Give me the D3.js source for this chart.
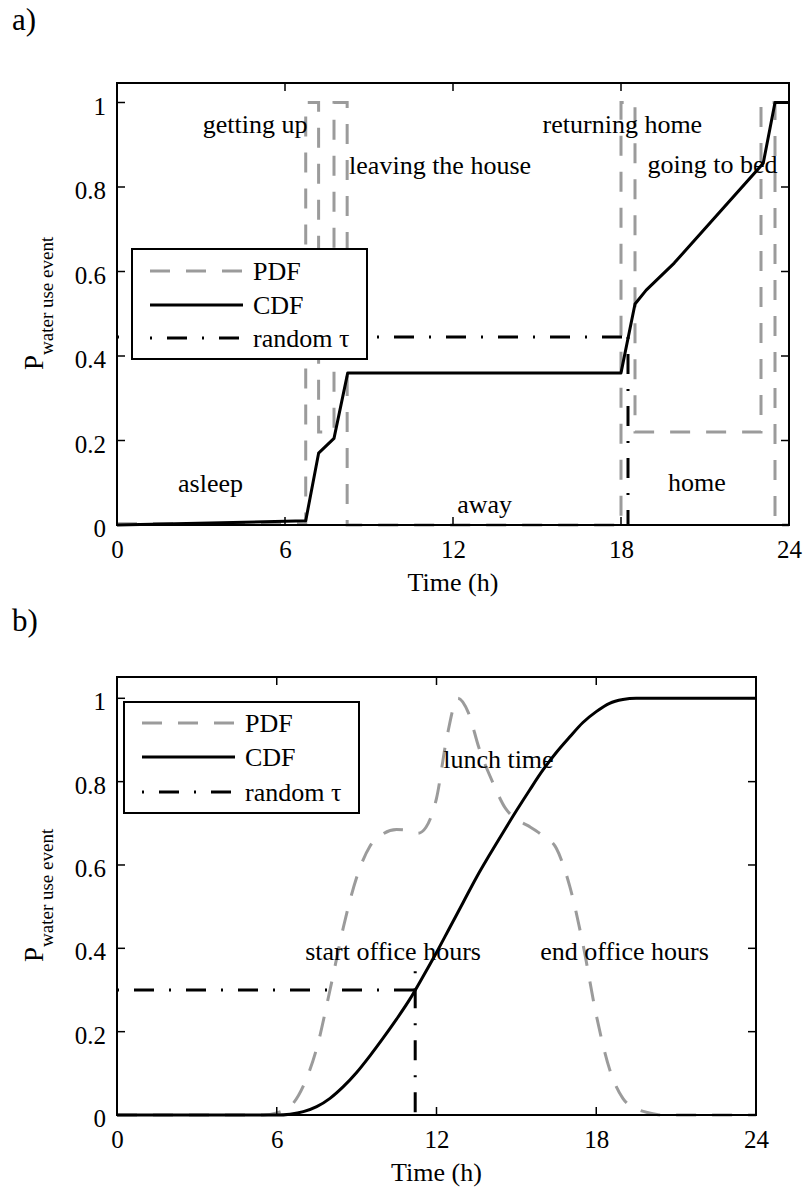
<!DOCTYPE html>
<html>
<head>
<meta charset="utf-8">
<script src="https://cdn.jsdelivr.net/npm/d3@7"></script>
<style>
  html, body { margin: 0; padding: 0; background: #fff; }
  svg text { font-family: "Liberation Serif", "Times New Roman", serif; fill: #000; }
</style>
</head>
<body>
<svg id="fig" width="804" height="1189"></svg>
<script>
// ---- Panel a: daily routine (step PDF) ----
const pdfA_t = [0, 6.74, 7.2, 7.75, 8.22, 18.0, 18.5, 23.0, 23.5, 24];
const pdfA_p = [0.003, 1, 0.22, 1, 0, 1, 0.22, 1, 0, 0];

const cdfA_t = [0, 6.74, 7.2, 7.75, 8.24, 18.0, 18.5, 18.9, 19.9, 23.08, 23.5, 24];
const cdfA_p = [0, 0.01, 0.17, 0.205, 0.36, 0.36, 0.523, 0.556, 0.62, 0.856, 1.0, 1.0];

const tauA_t = 18.25;
const tauA_p = 0.445;

const labelsA = [
  { text: "getting up", t: 3.06, p: 0.928 },
  { text: "leaving the house", t: 8.29, p: 0.831 },
  { text: "returning home", t: 15.2, p: 0.928 },
  { text: "going to bed", t: 18.95, p: 0.833 },
  { text: "asleep", t: 2.18, p: 0.079 },
  { text: "away", t: 12.15, p: 0.028 },
  { text: "home", t: 19.68, p: 0.08 }
];

// ---- Panel b: office worker (smooth PDF) ----
const pdfB_t = [0, 5.5, 6.0, 6.5, 7.0, 7.5, 8.0, 8.5, 9.0, 9.5, 10.0, 10.5, 11.0, 11.3, 11.6, 12.0, 12.4, 12.8, 13.2, 13.6, 14.1, 14.6, 15.0, 15.5, 16.0, 16.5, 17.0, 17.5, 18.0, 18.5, 19.0, 19.5, 20.0, 20.5, 24];
const pdfB_p = [0, 0, 0.005, 0.02, 0.07, 0.16, 0.3, 0.45, 0.57, 0.645, 0.675, 0.685, 0.682, 0.676, 0.69, 0.76, 0.91, 1.0, 0.965, 0.88, 0.8, 0.735, 0.71, 0.692, 0.67, 0.64, 0.55, 0.41, 0.24, 0.11, 0.04, 0.015, 0.005, 0, 0];

const cdfB_t = [0, 6.0, 6.5, 7.0, 7.5, 8.0, 8.5, 9.0, 9.5, 10.0, 10.5, 11.0, 11.5, 12.0, 12.5, 13.0, 13.5, 14.0, 14.5, 15.0, 15.5, 16.0, 16.5, 17.0, 17.5, 18.0, 18.5, 19.0, 19.5, 24];
const cdfB_p = [0, 0, 0.002, 0.008, 0.02, 0.04, 0.068, 0.102, 0.142, 0.185, 0.23, 0.278, 0.333, 0.39, 0.45, 0.51, 0.57, 0.625, 0.678, 0.73, 0.78, 0.828, 0.87, 0.907, 0.942, 0.968, 0.988, 0.997, 1.0, 1.0];

const tauB_t = 11.2;
const tauB_p = 0.3;
const tauB_top = 0.345;

const labelsB = [
  { text: "lunch time", t: 12.25, p: 0.832 },
  { text: "start office hours", t: 7.07, p: 0.373 },
  { text: "end office hours", t: 15.9, p: 0.373 }
];

const xTicks = [0, 6, 12, 18, 24];
const yTicks = [0, 0.2, 0.4, 0.6, 0.8, 1];
const legendNames = ["PDF", "CDF", "random \u03c4"];

const PDF_COLOR = "#9b9b9b";
const DASH = "20,16";
const DASHDOT = "2,15,20,15";

const svg = d3.select("#fig");

function zip(ts, ps) { return ts.map((t, i) => [t, ps[i]]); }

function panel(cfg) {
  const x = d3.scaleLinear().domain([0, 24]).range([cfg.left, cfg.right]);
  const y = d3.scaleLinear().domain([0, 1]).range([cfg.bottom, cfg.y1]);
  const g = svg.append("g");

  // panel letter
  g.append("text").attr("x", 12).attr("y", cfg.letterY)
    .attr("font-size", 31).text(cfg.letter);

  // data layers
  const plot = g.append("g");
  const line = d3.line().x(d => x(d[0])).y(d => y(d[1]));

  plot.append("path")
    .datum(zip(cfg.pdf_t, cfg.pdf_p))
    .attr("d", line.curve(cfg.step ? d3.curveStepAfter : d3.curveMonotoneX))
    .attr("fill", "none").attr("stroke", PDF_COLOR).attr("stroke-width", 3)
    .attr("stroke-dasharray", DASH);

  plot.append("path")
    .datum(zip(cfg.cdf_t, cfg.cdf_p))
    .attr("d", d3.line().x(d => x(d[0])).y(d => y(d[1])).curve(cfg.step ? d3.curveLinear : d3.curveMonotoneX))
    .attr("fill", "none").attr("stroke", "#000").attr("stroke-width", 3)
    .attr("stroke-linejoin", "round");

  // random tau: horizontal to the CDF, then down to the time axis
  plot.append("path")
    .datum([[0, cfg.tau_p], [cfg.tau_t, cfg.tau_p]])
    .attr("d", d3.line().x(d => x(d[0])).y(d => y(d[1])))
    .attr("fill", "none").attr("stroke", "#000").attr("stroke-width", 3)
    .attr("stroke-dasharray", DASHDOT);
  plot.append("path")
    .datum([[cfg.tau_t, cfg.tau_top], [cfg.tau_t, 0]])
    .attr("d", d3.line().x(d => x(d[0])).y(d => y(d[1])))
    .attr("fill", "none").attr("stroke", "#000").attr("stroke-width", 3)
    .attr("stroke-dasharray", DASHDOT);

  // annotations
  g.selectAll("text.ann").data(cfg.labels).enter().append("text")
    .attr("class", "ann")
    .attr("x", d => x(d.t)).attr("y", d => y(d.p))
    .attr("font-size", 26).text(d => d.text);

  // axes box
  g.append("rect").attr("x", cfg.left).attr("y", cfg.top)
    .attr("width", cfg.right - cfg.left).attr("height", cfg.bottom - cfg.top)
    .attr("fill", "none").attr("stroke", "#000").attr("stroke-width", 2);

  const tl = 8;
  const ax = g.append("g");
  const xb = d3.axisBottom(x).tickValues(xTicks).tickSize(0).tickPadding(0).tickFormat(d3.format("d"));
  ax.append("g").attr("transform", `translate(0,${cfg.bottom})`).call(xb)
    .call(s => s.select(".domain").remove())
    .call(s => s.selectAll("text").attr("font-size", 25).attr("font-family", null)
      .attr("dy", null).attr("y", 33));
  // inward tick marks on all four sides
  ax.selectAll("line.xt").data(xTicks).enter().append("line")
    .attr("x1", d => x(d)).attr("x2", d => x(d)).attr("y1", cfg.bottom).attr("y2", cfg.bottom - tl)
    .attr("stroke", "#000").attr("stroke-width", 1.5);
  ax.selectAll("line.xt2").data(xTicks).enter().append("line")
    .attr("x1", d => x(d)).attr("x2", d => x(d)).attr("y1", cfg.top).attr("y2", cfg.top + tl)
    .attr("stroke", "#000").attr("stroke-width", 1.5);

  const yl = d3.axisLeft(y).tickValues(yTicks).tickSize(0).tickPadding(11)
    .tickFormat(d => d === 0 || d === 1 ? String(d) : d3.format(".1f")(d));
  ax.append("g").attr("transform", `translate(${cfg.left},0)`).call(yl)
    .call(s => s.select(".domain").remove())
    .call(s => s.selectAll("text").attr("font-size", 25).attr("font-family", null)
      .attr("dy", "0.38em").attr("y", 2));
  ax.selectAll("line.yt").data(yTicks).enter().append("line")
    .attr("x1", cfg.left).attr("x2", cfg.left + tl).attr("y1", d => y(d)).attr("y2", d => y(d))
    .attr("stroke", "#000").attr("stroke-width", 1.5);
  ax.selectAll("line.yt2").data(yTicks).enter().append("line")
    .attr("x1", cfg.right).attr("x2", cfg.right - tl).attr("y1", d => y(d)).attr("y2", d => y(d))
    .attr("stroke", "#000").attr("stroke-width", 1.5);

  // axis titles
  g.append("text").attr("x", (cfg.left + cfg.right) / 2).attr("y", cfg.bottom + 66)
    .attr("text-anchor", "middle").attr("font-size", 26).text("Time (h)");

  const ylab = g.append("text")
    .attr("transform", `translate(43,${(cfg.top + cfg.bottom) / 2 + 66}) rotate(-90)`)
    .attr("font-size", 27);
  ylab.append("tspan").text("P");
  ylab.append("tspan").attr("dy", 10).attr("font-size", 19).text("water use event");

  // legend
  const L = cfg.legend;
  const lg = g.append("g");
  lg.append("rect").attr("x", L.x0).attr("y", L.y0).attr("width", L.x1 - L.x0).attr("height", L.y1 - L.y0)
    .attr("fill", "#fff").attr("stroke", "#000").attr("stroke-width", 2);
  const styles = [
    { stroke: PDF_COLOR, dash: DASH },
    { stroke: "#000", dash: null },
    { stroke: "#000", dash: DASHDOT }
  ];
  legendNames.forEach((name, i) => {
    const yy = L.rows[i];
    lg.append("line").attr("x1", L.s0).attr("x2", L.s1).attr("y1", yy).attr("y2", yy)
      .attr("stroke", styles[i].stroke).attr("stroke-width", 3)
      .attr("stroke-dasharray", styles[i].dash);
    lg.append("text").attr("x", L.tx).attr("y", yy + 9).attr("font-size", 26).text(name);
  });
}

panel({
  letter: "a)", letterY: 30,
  left: 117, right: 789, top: 83, bottom: 525, y1: 102.5,
  step: true,
  pdf_t: pdfA_t, pdf_p: pdfA_p, cdf_t: cdfA_t, cdf_p: cdfA_p,
  tau_t: tauA_t, tau_p: tauA_p, tau_top: tauA_p,
  labels: labelsA,
  legend: { x0: 132, x1: 367, y0: 249, y1: 359, rows: [271, 305, 338], s0: 150, s1: 243, tx: 253 }
});

panel({
  letter: "b)", letterY: 631,
  left: 117, right: 756, top: 677, bottom: 1115, y1: 698.3,
  step: false,
  pdf_t: pdfB_t, pdf_p: pdfB_p, cdf_t: cdfB_t, cdf_p: cdfB_p,
  tau_t: tauB_t, tau_p: tauB_p, tau_top: tauB_top,
  labels: labelsB,
  legend: { x0: 124, x1: 359, y0: 702, y1: 813, rows: [723, 757, 792], s0: 142, s1: 235, tx: 245 }
});
</script>
</body>
</html>
